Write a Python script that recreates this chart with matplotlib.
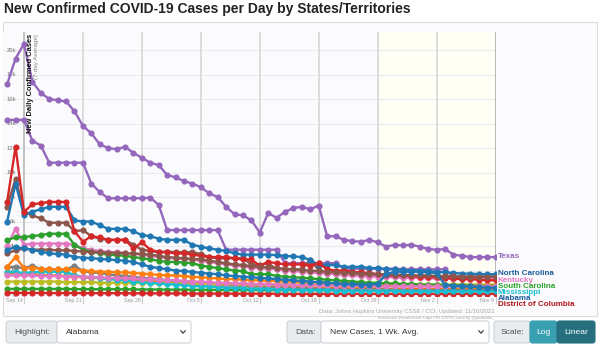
import matplotlib
matplotlib.use('Agg')
import matplotlib.pyplot as plt
import matplotlib.dates as mdates
from matplotlib.patches import Rectangle, FancyBboxPatch
import pandas as pd

plt.rcParams['font.family'] = ['Liberation Sans', 'DejaVu Sans']

# 7-day average of new confirmed cases per day, in thousands (Sep 12 - Nov 9, 2021)
dates = pd.date_range('2021-09-12', '2021-11-09', freq='D')

alabama = [3.7, 3.9, 3.8, 3.7, 3.55, 3.4, 3.35, 3.3, 3.1, 3.05, 3.0, 2.95, 2.9, 2.85, 2.8, 2.7,
           2.5, 2.3, 2.2, 2.1, 2.0, 1.95, 1.9, 1.8, 1.75, 1.7, 1.6, 1.55, 1.5, 1.45, 1.4, 1.35,
           1.3, 1.25, 1.2, 1.15, 1.1, 1.05, 1.0, 0.95, 0.9, 0.9, 0.85, 0.85, 0.9, 1.7, 1.9, 1.9,
           1.9, 1.9, 1.85, 1.8, 0.8, 0.75, 0.7, 0.7, 0.65, 0.6, 0.6]
arkansas = [1.8, 1.75, 1.7, 1.7, 1.65, 1.6, 1.6, 1.55, 1.5, 1.45, 1.4, 1.4, 1.35, 1.3, 1.3, 1.25,
            1.2, 1.15, 1.1, 1.05, 1.0, 1.0, 0.95, 0.9, 0.9, 0.85, 0.8, 0.8, 0.75, 0.75, 0.7, 0.7,
            0.7, 0.65, 0.65, 0.65, 0.6, 0.6, 0.6, 0.6, 0.55, 0.55, 0.55, 0.55, 0.55, 0.5, 0.5, 0.5,
            0.5, 0.5, 0.5, 0.5, 0.5, 0.5, 0.5, 0.5, 0.5, 0.5, 0.5]
delaware = [0.5, 0.5, 0.5, 0.5, 0.5, 0.5, 0.5, 0.5, 0.48, 0.48, 0.48, 0.47, 0.47, 0.47, 0.46, 0.46,
            0.45, 0.45, 0.45, 0.44, 0.44, 0.44, 0.43, 0.43, 0.43, 0.42, 0.42, 0.42, 0.41, 0.41, 0.41, 0.4,
            0.4, 0.4, 0.4, 0.4, 0.4, 0.4, 0.4, 0.4, 0.4, 0.4, 0.4, 0.4, 0.4, 0.4, 0.4, 0.4,
            0.4, 0.4, 0.4, 0.4, 0.4, 0.4, 0.4, 0.4, 0.4, 0.4, 0.4]
dc = [0.18, 0.18, 0.17, 0.17, 0.17, 0.16, 0.16, 0.16, 0.16, 0.15, 0.15, 0.15, 0.15, 0.15, 0.14, 0.14,
      0.14, 0.14, 0.13, 0.13, 0.13, 0.13, 0.12, 0.12, 0.12, 0.12, 0.12, 0.11, 0.11, 0.11, 0.11, 0.11,
      0.11, 0.1, 0.1, 0.1, 0.1, 0.1, 0.1, 0.1, 0.1, 0.1, 0.1, 0.1, 0.1, 0.1, 0.1, 0.1,
      0.1, 0.1, 0.1, 0.1, 0.1, 0.1, 0.1, 0.1, 0.1, 0.1, 0.1]
florida = [14.3, 14.3, 14.3, 12.6, 12.2, 10.8, 10.8, 10.8, 10.8, 10.8, 9.1, 8.4, 7.9, 7.9, 7.9, 7.9,
           7.9, 7.95, 7.35, 5.3, 5.3, 5.3, 5.3, 5.3, 5.3, 5.3, 3.7, 3.7, 3.7, 3.7, 3.7, 3.7,
           3.7, 2.6, 2.6, 2.6, 2.6, 2.6, 2.6, 2.6, 2.15, 2.15, 2.15, 2.15, 2.15, 2.15, 2.15, 2.1,
           2.1, 2.1, 2.1, 2.1, 2.1, 1.5, 1.5, 1.5, 1.5, 1.5, 1.5]
georgia = [7.2, 9.5, 6.8, 6.5, 6.25, 5.9, 5.9, 5.9, 5.2, 5.3, 4.8, 4.6, 4.5, 4.5, 4.5, 4.1,
           3.7, 3.6, 3.5, 3.55, 3.5, 3.5, 3.5, 3.35, 3.1, 3.0, 3.0, 3.0, 3.0, 2.5, 2.45, 2.6,
           2.1, 2.05, 2.05, 2.1, 2.85, 2.05, 1.8, 1.75, 1.7, 1.7, 1.65, 1.65, 1.6, 1.6, 1.55, 1.55,
           1.5, 1.5, 1.5, 1.45, 1.45, 1.4, 1.4, 1.4, 1.35, 1.35, 1.35]
kentucky = [4.0, 5.4, 4.1, 4.2, 4.2, 4.2, 4.2, 4.2, 4.1, 3.8, 3.7, 3.6, 3.5, 3.5, 3.45, 3.35,
            3.3, 3.2, 3.1, 3.0, 3.0, 2.95, 2.9, 2.8, 2.7, 2.6, 2.5, 2.4, 2.35, 2.2, 2.2, 2.15,
            2.1, 2.0, 1.95, 1.9, 1.85, 1.8, 1.75, 1.7, 1.65, 1.6, 1.55, 1.5, 1.5, 1.45, 1.45, 1.4,
            1.4, 1.4, 1.35, 1.35, 1.35, 1.3, 1.3, 1.3, 1.3, 1.3, 1.3]
louisiana = [2.3, 2.3, 2.2, 2.4, 2.1, 2.1, 2.1, 2.05, 2.4, 1.95, 1.85, 1.8, 1.7, 1.6, 1.55, 1.5,
             1.4, 1.35, 1.3, 1.2, 1.15, 1.1, 1.05, 1.0, 0.95, 0.9, 0.85, 0.8, 0.75, 0.7, 0.7, 0.65,
             0.65, 0.6, 0.6, 0.55, 0.55, 0.5, 0.5, 0.5, 0.45, 0.45, 0.45, 0.45, 0.45, 0.45, 0.4, 0.4,
             0.4, 0.4, 0.4, 0.4, 0.4, 0.4, 0.4, 0.4, 0.4, 0.4, 0.4]
maryland = [1.1, 1.1, 1.1, 1.1, 1.1, 1.1, 1.1, 1.05, 1.05, 1.05, 1.05, 1.0, 1.0, 1.0, 1.0, 1.0,
            1.0, 0.95, 0.95, 0.95, 0.95, 0.95, 0.9, 0.9, 0.9, 0.9, 0.9, 0.9, 0.85, 0.85, 0.85, 0.85,
            0.85, 0.85, 0.85, 0.85, 0.85, 0.85, 0.85, 0.85, 0.85, 0.85, 0.85, 0.85, 0.85, 0.85, 0.85, 0.85,
            0.85, 0.85, 0.85, 0.85, 0.85, 0.85, 0.85, 0.85, 0.85, 0.85, 0.85]
mississippi = [1.9, 1.85, 1.8, 1.85, 1.9, 1.9, 1.9, 1.9, 1.6, 1.5, 1.45, 1.4, 1.3, 1.25, 1.2, 1.1,
               1.05, 1.0, 0.95, 0.9, 0.85, 0.8, 0.75, 0.7, 0.7, 0.65, 0.6, 0.6, 0.55, 0.5, 0.5, 0.5,
               0.45, 0.45, 0.45, 0.4, 0.4, 0.4, 0.4, 0.35, 0.35, 0.35, 0.35, 0.35, 0.35, 0.35, 0.35, 0.3,
               0.3, 0.3, 0.3, 0.3, 0.3, 0.3, 0.3, 0.3, 0.3, 0.3, 0.3]
north_carolina = [6.0, 9.1, 6.5, 6.8, 7.0, 7.2, 7.2, 7.2, 6.1, 6.0, 6.0, 5.7, 5.4, 5.4, 5.4, 5.2,
                  4.9, 4.8, 4.6, 4.5, 4.5, 4.5, 4.1, 3.95, 3.8, 3.7, 3.6, 3.4, 3.3, 3.3, 3.3, 3.3,
                  3.25, 3.2, 3.15, 3.1, 2.85, 2.45, 2.45, 2.45, 2.3, 2.3, 2.3, 2.2, 2.2, 2.1, 2.1, 2.05,
                  2.0, 2.0, 1.95, 1.9, 1.85, 1.8, 1.75, 1.75, 1.7, 1.7, 1.7]
oklahoma = [2.3, 3.1, 2.2, 2.2, 2.15, 2.1, 2.1, 2.1, 2.05, 2.0, 1.95, 1.9, 1.9, 1.85, 1.85, 1.8,
            1.75, 1.7, 1.65, 1.6, 1.6, 1.55, 1.5, 1.45, 1.4, 1.35, 1.3, 1.3, 1.25, 1.2, 1.2, 1.15,
            1.15, 1.1, 1.1, 1.05, 1.05, 1.0, 1.0, 0.95, 0.95, 0.95, 0.9, 0.9, 0.9, 0.85, 0.85, 0.85,
            0.85, 0.8, 0.8, 0.8, 0.8, 0.8, 0.75, 0.75, 0.75, 0.75, 0.75]
south_carolina = [4.5, 4.7, 4.75, 4.8, 4.9, 5.0, 5.0, 5.0, 4.1, 3.7, 3.55, 3.4, 3.3, 3.25, 3.2, 3.1,
                  3.0, 2.9, 2.8, 2.7, 2.7, 2.65, 2.6, 2.4, 2.3, 2.2, 2.1, 2.0, 1.95, 1.7, 1.7, 1.7,
                  1.55, 1.5, 1.45, 1.4, 1.35, 1.3, 1.25, 1.2, 1.15, 1.1, 1.05, 1.0, 1.0, 0.95, 0.95, 0.9,
                  0.9, 0.85, 0.85, 0.85, 0.8, 0.8, 0.8, 0.75, 0.75, 0.75, 0.75]
tennessee = [7.6, 12.1, 6.8, 7.4, 7.5, 7.6, 7.6, 7.6, 5.2, 4.35, 4.8, 4.7, 4.5, 4.5, 4.5, 3.8,
             4.3, 3.7, 3.5, 3.5, 3.4, 3.4, 3.3, 3.2, 3.1, 3.1, 3.1, 3.0, 2.9, 2.9, 2.4, 2.7,
             2.6, 2.5, 2.5, 2.5, 2.4, 2.6, 2.1, 2.0, 2.0, 1.9, 1.85, 1.8, 1.7, 1.6, 1.6, 1.6,
             1.55, 1.5, 1.5, 1.45, 1.4, 1.35, 1.3, 1.3, 1.25, 1.2, 1.2]
texas = [17.2, 19.3, 20.5, 17.4, 16.5, 16.0, 15.9, 15.8, 15.0, 13.8, 13.2, 12.3, 12.0, 11.9, 12.1, 11.6,
         11.2, 10.8, 10.6, 9.8, 9.6, 9.3, 9.1, 8.8, 8.3, 8.0, 7.2, 6.6, 6.5, 6.1, 5.1, 6.7,
         6.3, 6.8, 7.1, 7.2, 7.0, 7.3, 4.8, 4.8, 4.5, 4.4, 4.35, 4.5, 4.3, 3.95, 4.1, 4.05,
         4.1, 3.95, 3.75, 3.7, 3.75, 3.3, 3.2, 3.1, 3.1, 3.1, 3.1]
virginia = [3.4, 3.65, 3.8, 3.7, 3.7, 3.7, 3.65, 3.65, 3.6, 3.55, 3.5, 3.5, 3.45, 3.45, 3.4, 3.4,
            3.35, 3.3, 3.2, 3.1, 3.05, 3.0, 2.95, 2.9, 2.8, 2.7, 2.6, 2.5, 2.45, 2.35, 2.3, 2.25,
            2.2, 2.15, 2.1, 2.05, 2.0, 1.95, 1.9, 1.85, 1.8, 1.8, 1.75, 1.75, 1.7, 1.7, 1.65, 1.65,
            1.6, 1.6, 1.6, 1.55, 1.55, 1.55, 1.5, 1.5, 1.5, 1.5, 1.5]
west_virginia = [1.6, 1.6, 1.6, 1.6, 1.55, 1.55, 1.55, 1.5, 1.5, 1.5, 1.45, 1.45, 1.4, 1.4, 1.35, 1.35,
                 1.3, 1.3, 1.25, 1.2, 1.2, 1.15, 1.1, 1.1, 1.05, 1.0, 1.0, 0.95, 0.95, 0.9, 0.9, 0.9,
                 0.85, 0.85, 0.85, 0.8, 0.8, 0.8, 0.8, 0.75, 0.75, 0.75, 0.75, 0.75, 0.7, 0.7, 0.7, 0.7,
                 0.7, 0.7, 0.7, 0.7, 0.7, 0.7, 0.7, 0.7, 0.7, 0.7, 0.7]

tab10 = ['#1f77b4', '#ff7f0e', '#2ca02c', '#d62728', '#9467bd',
         '#8c564b', '#e377c2', '#7f7f7f', '#bcbd22', '#17becf']
series = [
    ('Alabama', alabama), ('Arkansas', arkansas), ('Delaware', delaware),
    ('District of Columbia', dc), ('Florida', florida), ('Georgia', georgia),
    ('Kentucky', kentucky), ('Louisiana', louisiana), ('Maryland', maryland),
    ('Mississippi', mississippi), ('North Carolina', north_carolina), ('Oklahoma', oklahoma),
    ('South Carolina', south_carolina), ('Tennessee', tennessee), ('Texas', texas),
    ('Virginia', virginia), ('West Virginia', west_virginia),
]
colors = {name: tab10[i % 10] for i, (name, _) in enumerate(series)}

tick_dates = pd.date_range('2021-09-14', '2021-11-09', freq='7D')
y_ticks = [0, 2, 4, 6, 8, 10, 12, 14, 16, 18, 20]
shade_start = pd.Timestamp('2021-10-26')

# end-of-line labels: (name, pixel row after de-overlap)
end_labels = [('Texas', 257), ('North Carolina', 273.5), ('Kentucky', 280),
              ('South Carolina', 286.5), ('Mississippi', 292), ('Alabama', 298),
              ('District of Columbia', 304)]
label_colors = {'North Carolina': '#1a5a99', 'Alabama': '#1a5a99',
                'District of Columbia': '#b0161a'}

W, H = 600, 346
fig = plt.figure(figsize=(W / 100, H / 100), dpi=100)
fig.patch.set_facecolor('white')

# background layer in pixel coordinates
bg = fig.add_axes([0, 0, 1, 1])
bg.set_xlim(0, W)
bg.set_ylim(H, 0)
bg.axis('off')

PL, PR, PT, PB = 3, 496, 32, 296
bg.add_patch(Rectangle((3, 22), 594, 294, facecolor='#fbfbfd', edgecolor='#dddde0', lw=0.8))

bg.text(4, 9.5, 'New Confirmed COVID-19 Cases per Day by States/Territories',
        fontsize=10, fontweight='bold', color='#222222', va='center', ha='left')

ax = fig.add_axes([PL / W, 1 - PB / H, (PR - PL) / W, (PB - PT) / H])
ax.set_facecolor('#fbfbfd')
x0 = mdates.date2num(dates[0])
xlo, xhi = x0 - 0.49, x0 + 58.05
ax.set_xlim(xlo, xhi)
ax.set_ylim(-0.08, 21.47)
ax.axvspan(shade_start, dates[-1] + pd.Timedelta(hours=2), color='#fffff6', zorder=0, lw=0)

for y in y_ticks:
    ax.axhline(y, color='#ececf0', lw=0.8, zorder=1)
for i, d in enumerate(tick_dates):
    c = '#c2c2c2' if i == 0 else '#dcdcdc'
    ax.axvline(d, color=c, lw=1.4, zorder=1)
ax.axvline(dates[-1], color='#b8b8b8', lw=1.4, zorder=1)

for name, vals in series:
    if name == 'Alabama':
        continue
    ax.plot(dates, vals, color=colors[name], lw=1.7, marker='o', ms=3.4, zorder=3)
ax.plot(dates, alabama, color=colors['Alabama'], lw=1.7, marker='o', ms=3.4, zorder=4)

for s in ax.spines.values():
    s.set_visible(False)
ax.set_xticks([])
ax.set_yticks([])

# y tick labels sit inside the plot just left of the Sep 14 axis line
for y in y_ticks:
    lab = '0' if y == 0 else f'{y}k'
    ax.text(mdates.date2num(tick_dates[0]) - 0.9, y, lab, fontsize=4.2, color='#777777',
            ha='right', va='center', zorder=2)

ax.text(mdates.date2num(tick_dates[0]) + 0.75, 21.3, 'New Daily Confirmed Cases', rotation=90,
        fontsize=5.4, fontweight='bold', color='#111111', ha='center', va='top', zorder=5)
ax.text(mdates.date2num(tick_dates[0]) + 1.45, 21.3, '(7-day Average)', rotation=90,
        fontsize=4.6, color='#888888', ha='center', va='top', zorder=5)

# x tick labels, right-aligned against each weekly line
for d in tick_dates:
    xp = PL + (mdates.date2num(d) - xlo) / (xhi - xlo) * (PR - PL)
    bg.text(xp - 1.5, 300.5, f'{d:%b} {d.day}', fontsize=3.8, color='#999999',
            ha='right', va='center')
    bg.plot([xp, xp], [297, 303], color='#cccccc', lw=0.8)

for name, yp in end_labels:
    bg.text(498, yp, name, fontsize=5.8, fontweight='bold',
            color=label_colors.get(name, colors[name]), ha='left', va='center', zorder=6)

bg.text(495, 311, 'Data: Johns Hopkins University CSSE / CCI; Updated: 11/10/2021',
        fontsize=4.3, color='#a8a8a8', ha='right', va='center')
bg.text(495, 317.5, 'Interactive Visualization: https://91-DIVOC.com/ by @profwade_',
        fontsize=3.0, color='#a8a8a8', ha='right', va='center')

# control bar
def box(x, w, fc, ec='#ced4da', y=321, h=22):
    bg.add_patch(FancyBboxPatch((x, y), w, h, boxstyle='round,pad=0,rounding_size=2.5',
                                facecolor=fc, edgecolor=ec, lw=0.8))

def chevron(x, y=332):
    bg.plot([x - 2.2, x, x + 2.2], [y - 1.2, y + 1.2, y - 1.2], color='#444444', lw=0.9)

cy = 332
box(6, 51, '#e9ecef')
box(57, 134, 'white')
bg.text(14, cy, 'Highlight:', fontsize=6.1, color='#495057', va='center')
bg.text(66, cy, 'Alabama', fontsize=6.1, color='#333333', va='center')
chevron(183)

box(287, 34, '#e9ecef')
box(321, 168, 'white')
bg.text(295, cy, 'Data:', fontsize=6.1, color='#495057', va='center')
bg.text(330, cy, 'New Cases, 1 Wk. Avg.', fontsize=6.1, color='#333333', va='center')
chevron(481)

box(494, 36, '#e9ecef')
box(530, 27, '#3a9fb1', ec='#3a9fb1')
box(557, 38, '#26707e', ec='#26707e')
bg.text(501, cy, 'Scale:', fontsize=6.1, color='#495057', va='center')
bg.text(543.5, cy, 'Log', fontsize=6.1, color='white', va='center', ha='center')
bg.text(576, cy, 'Linear', fontsize=6.1, color='white', va='center', ha='center')

fig.savefig('out.png', dpi=100, facecolor='white')
